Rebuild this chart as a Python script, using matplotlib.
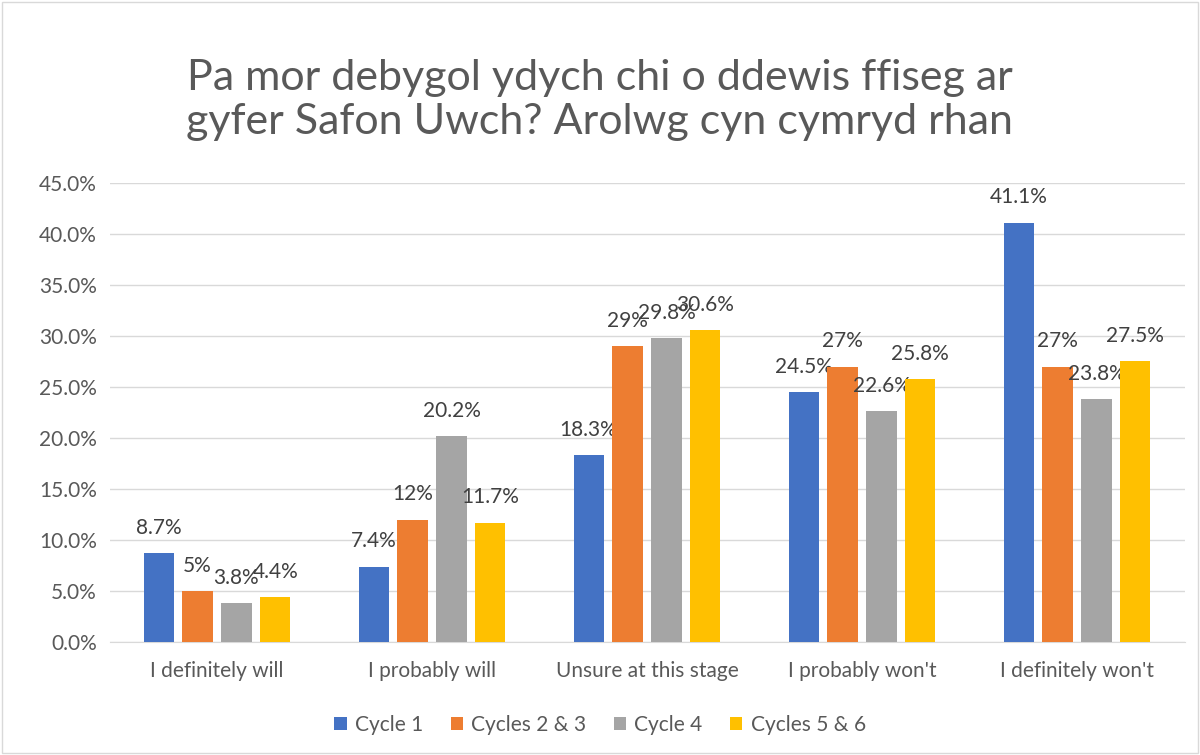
import matplotlib.pyplot as plt
import numpy as np

categories = ["I definitely will", "I probably will", "Unsure at this stage",
              "I probably won't", "I definitely won't"]
series_names = ["Cycle 1", "Cycles 2 & 3", "Cycle 4", "Cycles 5 & 6"]
cycle1 = [8.7, 7.4, 18.3, 24.5, 41.1]
cycles23 = [5.0, 12.0, 29.0, 27.0, 27.0]
cycle4 = [3.8, 20.2, 29.8, 22.6, 23.8]
cycles56 = [4.4, 11.7, 30.6, 25.8, 27.5]
labels1 = ["8.7%", "7.4%", "18.3%", "24.5%", "41.1%"]
labels23 = ["5%", "12%", "29%", "27%", "27%"]
labels4 = ["3.8%", "20.2%", "29.8%", "22.6%", "23.8%"]
labels56 = ["4.4%", "11.7%", "30.6%", "25.8%", "27.5%"]
colors = ["#4472C4", "#ED7D31", "#A5A5A5", "#FFC000"]

plt.rcParams['font.family'] = ['Lato', 'DejaVu Sans']

fig = plt.figure(figsize=(12, 7.55), dpi=100)
ax = fig.add_axes([109.5 / 1200, 1 - 642 / 755, 1075 / 1200, 459 / 755])

x = np.arange(len(categories))
width = 0.14
step = 0.181
all_vals = [cycle1, cycles23, cycle4, cycles56]
all_labels = [labels1, labels23, labels4, labels56]
for i, (vals, labs) in enumerate(zip(all_vals, all_labels)):
    pos = x + (i - 1.5) * step
    ax.bar(pos, vals, width, color=colors[i], label=series_names[i], zorder=3)
    for p, v, l in zip(pos, vals, labs):
        ax.text(p, v + 1.5, l, ha='center', va='bottom', fontsize=15, color='#404040')

ax.set_xlim(-0.5, 4.5)
ax.set_ylim(0, 45)
ax.set_yticks(np.arange(0, 46, 5))
ax.set_yticklabels(["%.1f%%" % t for t in np.arange(0, 46, 5)])
ax.set_xticks(x)
ax.set_xticklabels(categories)
ax.tick_params(axis='both', length=0, labelsize=15, colors='#595959')
ax.tick_params(axis='y', pad=9)
ax.tick_params(axis='x', pad=14)
ax.grid(axis='y', color='#D9D9D9', linewidth=1, zorder=0)
for s in ['top', 'right', 'left']:
    ax.spines[s].set_visible(False)
ax.spines['bottom'].set_color('#D9D9D9')

fig.text(0.5, 1 - 100 / 755, "Pa mor debygol ydych chi o ddewis ffiseg ar\ngyfer Safon Uwch? Arolwg cyn cymryd rhan",
         ha='center', va='center', fontsize=31, color='#595959', linespacing=1.2)

fig.legend(loc='center', bbox_to_anchor=(0.5, 1 - 725 / 755), ncol=4, frameon=False,
           fontsize=15, handlelength=0.6, handleheight=0.6, handletextpad=0.4,
           columnspacing=1.3, labelcolor='#595959')

fig.patches.append(plt.Rectangle((0.002, 0.002), 0.996, 0.996, transform=fig.transFigure,
                                 fill=False, edgecolor='#D9D9D9', linewidth=1))

fig.savefig("out.png", dpi=100)
